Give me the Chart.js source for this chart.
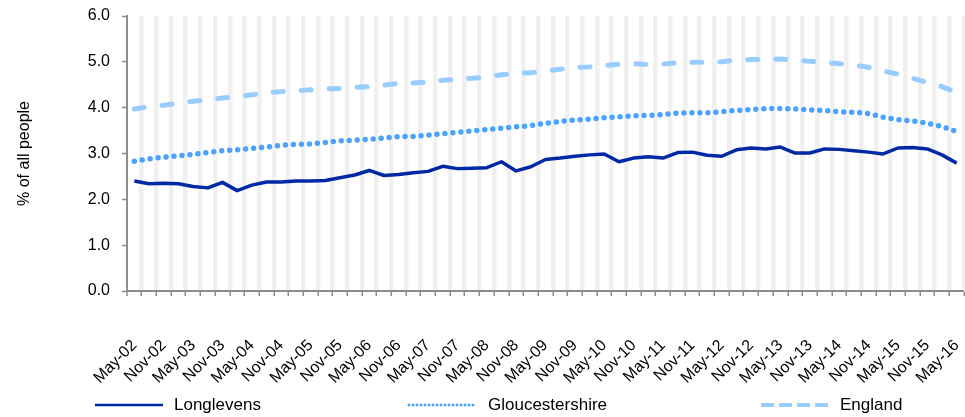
<!DOCTYPE html>
<html>
<head>
<meta charset="utf-8">
<script src="https://cdn.jsdelivr.net/npm/chart.js@4.4.1/dist/chart.umd.min.js"></script>
<style>
  body { margin: 0; background: #fff; font-family: "Liberation Sans", Arial, sans-serif; }
  #wrap { position: relative; width: 965px; height: 417px; overflow: hidden; }
  #chart { position: absolute; left: 0; top: 0; }
  .lg { position: absolute; top: 395px; font-size: 17px; color: #000; display: flex; align-items: center; white-space: nowrap; }
  .lg svg { margin-right: 9px; }
</style>
</head>
<body>
<div id="wrap">
  <canvas id="chart" width="965" height="417"></canvas>
  <div id="legend"></div>
</div>
<script>
// quarterly periods, May-02 .. May-16
const PERIODS = [
  'May-02','Aug-02','Nov-02','Feb-03','May-03','Aug-03','Nov-03','Feb-04',
  'May-04','Aug-04','Nov-04','Feb-05','May-05','Aug-05','Nov-05','Feb-06',
  'May-06','Aug-06','Nov-06','Feb-07','May-07','Aug-07','Nov-07','Feb-08',
  'May-08','Aug-08','Nov-08','Feb-09','May-09','Aug-09','Nov-09','Feb-10',
  'May-10','Aug-10','Nov-10','Feb-11','May-11','Aug-11','Nov-11','Feb-12',
  'May-12','Aug-12','Nov-12','Feb-13','May-13','Aug-13','Nov-13','Feb-14',
  'May-14','Aug-14','Nov-14','Feb-15','May-15','Aug-15','Nov-15','Feb-16',
  'May-16'
];

const LONGLEVENS = [
  2.40, 2.34, 2.35, 2.34, 2.28, 2.25, 2.37, 2.19, 2.31, 2.38,
  2.38, 2.40, 2.40, 2.41, 2.47, 2.53, 2.63, 2.52, 2.54, 2.58,
  2.61, 2.72, 2.67, 2.68, 2.69, 2.82, 2.62, 2.71, 2.87, 2.90,
  2.94, 2.97, 2.99, 2.82, 2.90, 2.93, 2.90, 3.02, 3.03, 2.96,
  2.94, 3.08, 3.12, 3.10, 3.14, 3.01, 3.01, 3.10, 3.09, 3.06,
  3.03, 2.99, 3.12, 3.13, 3.10, 2.97, 2.79
];
const GLOUCESTERSHIRE = [
  2.83, 2.88, 2.92, 2.95, 2.98, 3.02, 3.06, 3.08, 3.11, 3.14,
  3.18, 3.20, 3.21, 3.24, 3.28, 3.29, 3.31, 3.34, 3.37, 3.37,
  3.40, 3.43, 3.46, 3.49, 3.52, 3.55, 3.58, 3.61, 3.66, 3.70,
  3.73, 3.75, 3.78, 3.80, 3.82, 3.83, 3.85, 3.88, 3.89, 3.89,
  3.91, 3.94, 3.96, 3.98, 3.98, 3.97, 3.95, 3.94, 3.91, 3.90,
  3.87, 3.79, 3.74, 3.71, 3.66, 3.59, 3.48
];
const ENGLAND = [
  3.97, 4.02, 4.05, 4.10, 4.14, 4.17, 4.21, 4.24, 4.28, 4.32,
  4.35, 4.37, 4.39, 4.41, 4.42, 4.44, 4.46, 4.49, 4.53, 4.54,
  4.56, 4.60, 4.62, 4.64, 4.67, 4.72, 4.75, 4.76, 4.80, 4.84,
  4.88, 4.89, 4.92, 4.95, 4.96, 4.94, 4.95, 4.98, 4.99, 4.99,
  5.00, 5.04, 5.05, 5.05, 5.06, 5.04, 5.01, 4.99, 4.96, 4.93,
  4.88, 4.80, 4.73, 4.64, 4.55, 4.46, 4.33
];

const Y_MIN = 0, Y_MAX = 6, Y_STEP = 1;
const Y_TITLE = '% of all people';

// line look per series; lg is for the legend sample only
const SERIES = [
  { name: 'Longlevens', data: LONGLEVENS, color: '#0029a6', width: 3.5, dash: [], cap: 'butt',
    lg: { w: 2.5, dash: '', cap: 'butt' } },
  { name: 'Gloucestershire', data: GLOUCESTERSHIRE, color: '#4ba3ff', width: 5.5, dash: [0, 8], cap: 'round',
    lg: { w: 3, dash: '0 4', cap: 'round' } },
  { name: 'England', data: ENGLAND, color: '#99ccff', width: 5, dash: [10, 18], cap: 'round',
    lg: { w: 4, dash: '13 5', cap: 'butt' } },
];
const LEGEND_X = [93, 407, 759];

const AXIS = '#8c8c8c';
Chart.defaults.font.family = '"Liberation Sans", Arial, sans-serif';
Chart.defaults.color = '#000';

new Chart(document.getElementById('chart'), {
  type: 'line',
  data: {
    labels: PERIODS,
    datasets: SERIES.map(s => ({
      label: s.name, data: s.data,
      borderColor: s.color, backgroundColor: s.color,
      borderWidth: s.width, borderDash: s.dash, borderCapStyle: s.cap, borderJoinStyle: 'round',
      pointRadius: 0, tension: 0, fill: false,
    })),
  },
  options: {
    responsive: false, animation: false, devicePixelRatio: 1,
    layout: { padding: { top: 16, right: 1, left: 0, bottom: 0 } },
    plugins: { legend: { display: false }, tooltip: { enabled: false } },
    scales: {
      x: {
        offset: true,
        grid: {
          offset: true, drawOnChartArea: true,
          color: '#f0f0f0', lineWidth: (ctx) => ctx.index === 0 ? 0 : 4.5,
          tickColor: AXIS, tickWidth: 1.5, tickLength: 5,
        },
        border: { display: true, color: AXIS, width: 2 },
        ticks: {
          autoSkip: false, maxRotation: 45, minRotation: 45, padding: 40,
          font: { size: 16 },
          callback: function (v) {
            const l = this.getLabelForValue(v);
            return /^(May|Nov)/.test(l) ? l : '';
          },
        },
        // rotated labels should not shrink the plot area on the right
        afterFit: (s) => { s.height = 126; s.paddingRight = 0; s.paddingLeft = 0; },
      },
      y: {
        min: Y_MIN, max: Y_MAX,
        grid: { drawOnChartArea: false, tickColor: AXIS, tickWidth: 1.5, tickLength: 5 },
        border: { display: true, color: AXIS, width: 2 },
        ticks: { stepSize: Y_STEP, padding: 12, font: { size: 16 }, callback: (v) => v.toFixed(1) },
        title: { display: true, text: Y_TITLE, font: { size: 16 }, padding: { top: 15, bottom: 0 } },
        afterFit: (s) => { s.width = 127; s.paddingTop = 0; s.paddingBottom = 0; },
      },
    },
  },
});

document.getElementById('legend').innerHTML = SERIES.map((s, i) =>
  `<span class="lg" style="left:${LEGEND_X[i]}px"><svg width="72" height="8">
     <line x1="2" y1="4" x2="70" y2="4" stroke="${s.color}" stroke-width="${s.lg.w}"
       stroke-dasharray="${s.lg.dash}" stroke-linecap="${s.lg.cap}"/></svg>${s.name}</span>`).join('');
</script>
</body>
</html>
